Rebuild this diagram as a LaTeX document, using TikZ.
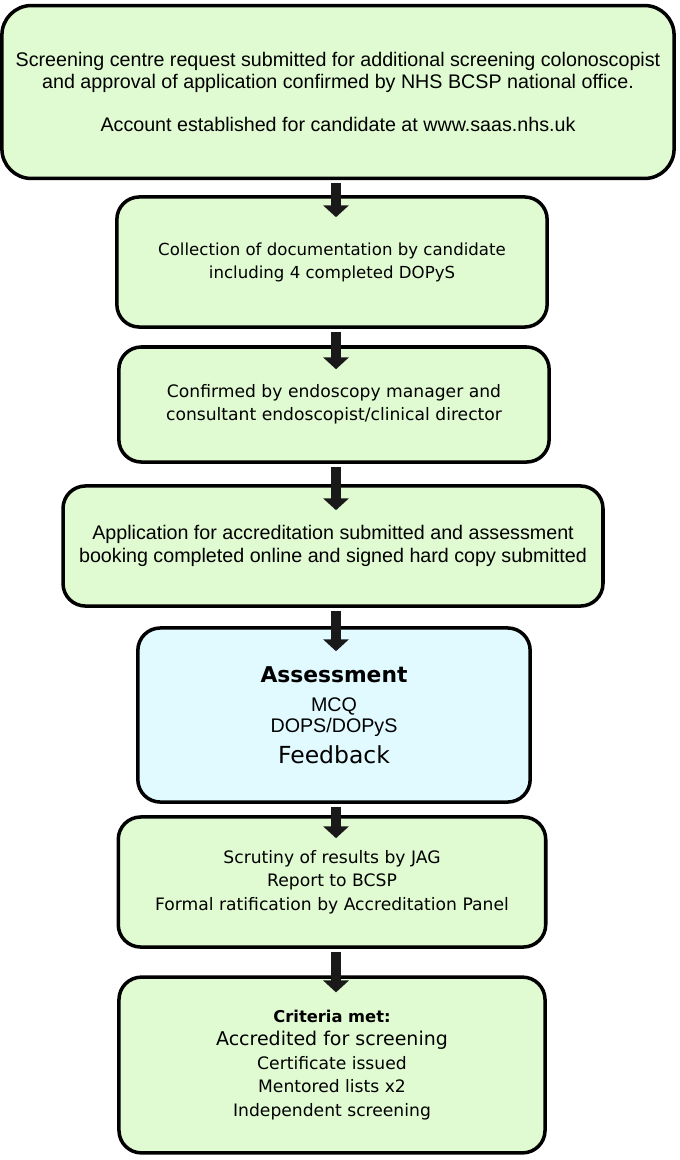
\documentclass[tikz,border=0pt]{standalone}
\usepackage{fontspec}
\setmainfont{Liberation Sans}
\newfontfamily\lucida{DejaVu Sans}
\usetikzlibrary{arrows.meta,calc}

\definecolor{boxgreen}{RGB}{224,250,210}
\definecolor{boxblue}{RGB}{224,250,255}

\tikzset{
  stepbox/.style={draw=black,line width=2.5pt,rounded corners=16pt,fill=boxgreen,align=center,inner sep=0pt},
  flowarrow/.style={draw=black!90,line width=7.8pt,-{Triangle[width=18pt,length=8.5pt]}}
}

\begin{document}
\begin{tikzpicture}[x=0.025cm,y=-0.025cm]
	\useasboundingbox (0,0) rectangle (679,1160);
	\coordinate (col) at (336,0);

	% the steps, top to bottom
	\node (request) [stepbox,rounded corners=21pt,minimum width=478pt,minimum height=123pt,
	        font=\fontsize{14}{15.6}\selectfont] at (338,92)
	  {Screening centre request submitted for additional screening colonoscopist\\
	   and approval of application confirmed by NHS BCSP national office.\\[15pt]
	   Account established for candidate at www.saas.nhs.uk};

	\node (collect) [stepbox,minimum width=306pt,minimum height=92.5pt,
	        font=\lucida\fontsize{11.8}{16.4}\selectfont] at (332,262)
	  {Collection of documentation by candidate\\ including 4 completed DOPyS};

	\node (confirm) [stepbox,minimum width=306pt,minimum height=81.8pt,
	        font=\lucida\fontsize{12.2}{16.4}\selectfont] at (334,404.5)
	  {Confirmed by endoscopy manager and\\ consultant endoscopist/clinical director};

	\node (apply) [stepbox,minimum width=384pt,minimum height=85.4pt,
	        font=\fontsize{14}{16.4}\selectfont] at (333,546)
	  {Application for accreditation submitted and assessment\\
	   booking completed online and signed hard copy submitted};

	\node (assess) [stepbox,fill=boxblue,minimum width=279pt,minimum height=123.8pt,
	        font=\fontsize{14}{15}\selectfont] at (334,715)
	  {{\lucida\bfseries\fontsize{15.5}{18}\selectfont Assessment}\\[5.6pt]
	   MCQ\\
	   DOPS/DOPyS\\[5.6pt]
	   {\lucida\fontsize{16.7}{18}\selectfont Feedback}};

	\node (scrutiny) [stepbox,minimum width=304pt,minimum height=92.5pt,
	        font=\lucida\fontsize{12.2}{16.7}\selectfont] at (332,882)
	  {Scrutiny of results by JAG\\ Report to BCSP\\ Formal ratification by Accreditation Panel};

	\node (criteria) [stepbox,minimum width=303pt,minimum height=125pt,
	        font=\lucida\fontsize{12.2}{16.7}\selectfont] at (332,1065)
	  {{\bfseries\fontsize{11.6}{16.7}\selectfont Criteria met:}\\
	   {\fontsize{13.5}{16.7}\selectfont Accredited for screening}\\
	   Certificate issued\\ Mentored lists x2\\ Independent screening};

	% block arrows between the steps
	\draw[flowarrow] ($(request.south -| col)+(0,3)$) -- ($(collect.north -| col)+(0,22)$);
	\draw[flowarrow] ($(collect.south -| col)+(0,3)$) -- ($(confirm.north -| col)+(0,24)$);
	\draw[flowarrow] ($(confirm.south -| col)+(0,3)$) -- ($(apply.north -| col)+(0,26)$);
	\draw[flowarrow] ($(apply.south -| col)+(0,3)$) -- ($(assess.north -| col)+(0,25)$);
	\draw[flowarrow] ($(assess.south -| col)+(0,3)$) -- ($(scrutiny.north -| col)+(0,23)$);
	\draw[flowarrow] ($(scrutiny.south -| col)+(0,3)$) -- ($(criteria.north -| col)+(0,17)$);

\end{tikzpicture}
\end{document}
